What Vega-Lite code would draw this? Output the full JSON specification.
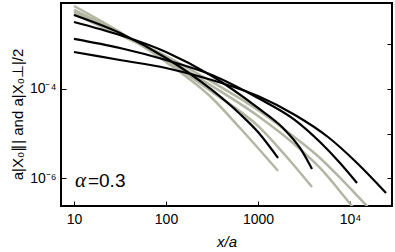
{
  "$schema": "https://vega.github.io/schema/vega-lite/v6.json",
  "width": 331,
  "height": 203,
  "autosize": "none",
  "padding": {"left": 61, "top": 3, "right": 3, "bottom": 46},
  "config": {
    "view": {"stroke": "black", "strokeWidth": 2},
    "font": "Liberation Sans",
    "axis": {"grid": false, "domain": false, "labelColor": "black", "titleColor": "black", "tickColor": "black", "labelFontSize": 14, "titleFontSize": 15, "titleFontWeight": "normal"}
  },
  "resolve": {"axis": {"y": "independent"}},
  "datasets": {
    "curves": [
      {"s": "B1", "x": 10, "y": 4.52e-3}, {"s": "B1", "x": 31.6, "y": 1.79e-3}, {"s": "B1", "x": 100, "y": 4.94e-4}, {"s": "B1", "x": 316, "y": 9.5e-5}, {"s": "B1", "x": 637, "y": 2.76e-5}, {"s": "B1", "x": 1000, "y": 1.09e-5}, {"s": "B1", "x": 1650, "y": 2.86e-6},
      {"s": "B2", "x": 10, "y": 3.16e-3}, {"s": "B2", "x": 31.6, "y": 1.61e-3}, {"s": "B2", "x": 100, "y": 6.73e-4}, {"s": "B2", "x": 316, "y": 1.95e-4}, {"s": "B2", "x": 1000, "y": 3.76e-5}, {"s": "B2", "x": 1869, "y": 1.34e-5}, {"s": "B2", "x": 2861, "y": 4.79e-6}, {"s": "B2", "x": 3864, "y": 1.62e-6},
      {"s": "B3", "x": 10, "y": 1.32e-3}, {"s": "B3", "x": 31.6, "y": 8.26e-4}, {"s": "B3", "x": 100, "y": 4.46e-4}, {"s": "B3", "x": 316, "y": 2.06e-4}, {"s": "B3", "x": 1000, "y": 6.29e-5}, {"s": "B3", "x": 2525, "y": 2.02e-5}, {"s": "B3", "x": 4720, "y": 6.52e-6}, {"s": "B3", "x": 7787, "y": 2.21e-6}, {"s": "B3", "x": 11917, "y": 7.89e-7},
      {"s": "B4", "x": 10, "y": 6.73e-4}, {"s": "B4", "x": 31.6, "y": 4.46e-4}, {"s": "B4", "x": 100, "y": 2.95e-4}, {"s": "B4", "x": 316, "y": 1.59e-4}, {"s": "B4", "x": 1000, "y": 6.97e-5}, {"s": "B4", "x": 2525, "y": 2.62e-5}, {"s": "B4", "x": 5767, "y": 8.43e-6}, {"s": "B4", "x": 11917, "y": 2.21e-6}, {"s": "B4", "x": 24620, "y": 4.71e-7}
    ],
    "grays": [
      {"s": "G1", "x": 10, "y": 7.19e-3}, {"s": "G1", "x": 31.6, "y": 1.88e-3}, {"s": "G1", "x": 100, "y": 4.02e-4}, {"s": "G1", "x": 316, "y": 6.29e-5}, {"s": "G1", "x": 637, "y": 1.34e-5}, {"s": "G1", "x": 1000, "y": 4.79e-6}, {"s": "G1", "x": 1650, "y": 1.47e-6},
      {"s": "G2", "x": 10, "y": 5.85e-3}, {"s": "G2", "x": 31.6, "y": 1.79e-3}, {"s": "G2", "x": 100, "y": 4.46e-4}, {"s": "G2", "x": 316, "y": 8.57e-5}, {"s": "G2", "x": 1000, "y": 1.49e-5}, {"s": "G2", "x": 1966, "y": 3.34e-6}, {"s": "G2", "x": 3864, "y": 6.43e-7},
      {"s": "G3", "x": 10, "y": 5.28e-3}, {"s": "G3", "x": 31.6, "y": 1.70e-3}, {"s": "G3", "x": 100, "y": 4.94e-4}, {"s": "G3", "x": 316, "y": 1.17e-4}, {"s": "G3", "x": 1000, "y": 2.49e-5}, {"s": "G3", "x": 2401, "y": 6.19e-6}, {"s": "G3", "x": 4720, "y": 1.71e-6}, {"s": "G3", "x": 10512, "y": 2.41e-7}, {"s": "G3", "x": 11917, "y": 1.77e-7},
      {"s": "G4", "x": 10, "y": 4.76e-3}, {"s": "G4", "x": 31.6, "y": 1.61e-3}, {"s": "G4", "x": 100, "y": 5.47e-4}, {"s": "G4", "x": 316, "y": 1.44e-4}, {"s": "G4", "x": 1000, "y": 3.39e-5}, {"s": "G4", "x": 2401, "y": 8.89e-6}, {"s": "G4", "x": 4720, "y": 2.86e-6}, {"s": "G4", "x": 8824, "y": 7.89e-7}, {"s": "G4", "x": 15300, "y": 2.41e-7}, {"s": "G4", "x": 24620, "y": 9.06e-8}
    ],
    "labels": [
      {"t": "α", "x": 10.25, "y": 6.4e-7, "f": "serif"},
      {"t": "=0.3", "x": 14.19, "y": 6.4e-7, "f": "sans"}
    ]
  },
  "layer": [
    {
      "data": {"name": "grays"},
      "mark": {"type": "line", "clip": true, "color": "#b3b6a2", "strokeWidth": 2.5, "interpolate": "monotone"},
      "encoding": {
        "x": {"field": "x", "type": "quantitative", "scale": {"type": "log", "domain": [7.23, 28600], "nice": false},
          "axis": {"values": [10, 100, 1000, 10000], "tickSize": -5, "labelPadding": 11, "labelExpr": "datum.value == 10000 ? '10⁴' : datum.value + ''", "title": "x/a", "titleFontStyle": "italic", "titlePadding": 8}},
        "y": {"field": "y", "type": "quantitative", "scale": {"type": "log", "domain": [2.41e-7, 8.39e-3], "nice": false},
          "axis": {"values": [1e-4, 1e-6], "tickSize": -5, "labelPadding": 10, "labelExpr": "datum.value < 5e-6 ? '10⁻⁶' : '10⁻⁴'", "title": "a|X₀∥| and a|X₀⊥|/2", "titlePadding": 4, "titleY": 111}},
        "detail": {"field": "s"}
      }
    },
    {
      "data": {"name": "curves"},
      "mark": {"type": "line", "clip": true, "color": "black", "strokeWidth": 2.2, "interpolate": "monotone"},
      "encoding": {
        "x": {"field": "x", "type": "quantitative"},
        "y": {"field": "y", "type": "quantitative", "axis": {"orient": "right", "values": [1e-3, 1e-4, 1e-5, 1e-6], "tickSize": -5, "labels": false, "title": null}},
        "detail": {"field": "s"}
      }
    },
    {
      "data": {"name": "labels"},
      "transform": [{"filter": "datum.f == 'serif'"}],
      "mark": {"type": "text", "align": "left", "baseline": "alphabetic", "font": "Liberation Serif", "fontStyle": "italic", "fontSize": 21},
      "encoding": {"x": {"field": "x", "type": "quantitative"}, "y": {"field": "y", "type": "quantitative", "axis": null}, "text": {"field": "t"}}
    },
    {
      "data": {"name": "labels"},
      "transform": [{"filter": "datum.f == 'sans'"}],
      "mark": {"type": "text", "align": "left", "baseline": "alphabetic", "font": "Liberation Sans", "fontSize": 19},
      "encoding": {"x": {"field": "x", "type": "quantitative"}, "y": {"field": "y", "type": "quantitative", "axis": null}, "text": {"field": "t"}}
    }
  ]
}
